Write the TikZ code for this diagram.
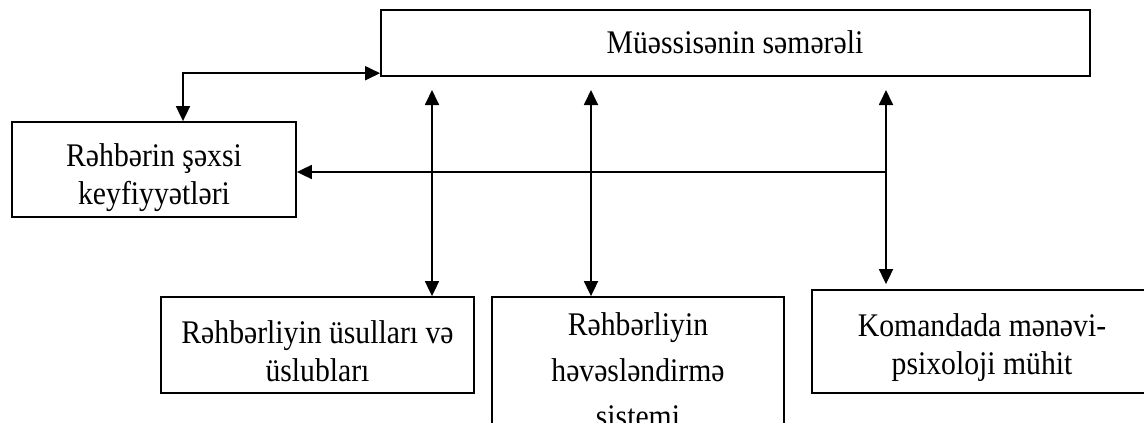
\documentclass[tikz,border=0pt]{standalone}
\usepackage{fontspec}
\setmainfont{Liberation Serif}[FakeStretch=0.9]
\usetikzlibrary{arrows.meta,calc}
\begin{document}
\begin{tikzpicture}[x=1pt,y=-1pt,
  box/.style={draw=black,line width=1.8pt,inner sep=0pt},
  txt/.style={align=center,inner sep=0pt,font=\fontsize{33}{38}\selectfont},
  conn/.style={line width=1.8pt,{Triangle[length=15pt,width=14pt]}-{Triangle[length=15pt,width=14pt]}},
  oneway/.style={line width=1.8pt,-{Triangle[length=15pt,width=14pt]}}]
\useasboundingbox (0,0) rectangle (1144,423);
\fill[white] (0,0) rectangle (1144,423);
\clip (0,0) rectangle (1144,423);
% boxes
\node[box,minimum width=709pt,minimum height=66pt] (top) at (735.5,43) {};
\node[txt] (toptext) at (735,42) {Müəssisənin səmərəli};
\node[box,minimum width=284pt,minimum height=95pt] (left) at (154,169.5) {};
\node[txt] (lefttext) at (154,178) {Rəhbərin şəxsi\\keyfiyyətləri};
\node[box,minimum width=313pt,minimum height=96pt] (b1) at (317.5,345) {};
\node[txt] (b1text) at (317.5,351) {Rəhbərliyin üsulları və\\üslubları};
\node[box,minimum width=292pt,minimum height=186pt] (b2) at (638,390) {};
\node[txt,font=\fontsize{33}{46}\selectfont,anchor=north] (b2text) at (638,312) {Rəhbərliyin\\həvəsləndirmə\\sistemi};
\node[box,minimum width=340pt,minimum height=103pt] (b3) at (982,341.5) {};
\node[txt] (b3text) at (982,348) {Komandada mənəvi-\\psixoloji mühit};
% connectors
\draw[conn] ([yshift=3.7pt]top.south west) -| ([xshift=29pt]left.north);
\coordinate (t1) at (432,90);
\coordinate (t2) at (591,90);
\coordinate (t3) at (886,90);
\coordinate (hub) at (886,172);
\draw[conn] (t1) -- (t1 |- b1.north);
\draw[conn] (t2) -- (t2 |- b2.north);
\draw[conn] (t3) -- ([yshift=5pt]t3 |- b3.north);
\draw[oneway] (hub) -- (hub -| left.east);
\end{tikzpicture}
\end{document}
